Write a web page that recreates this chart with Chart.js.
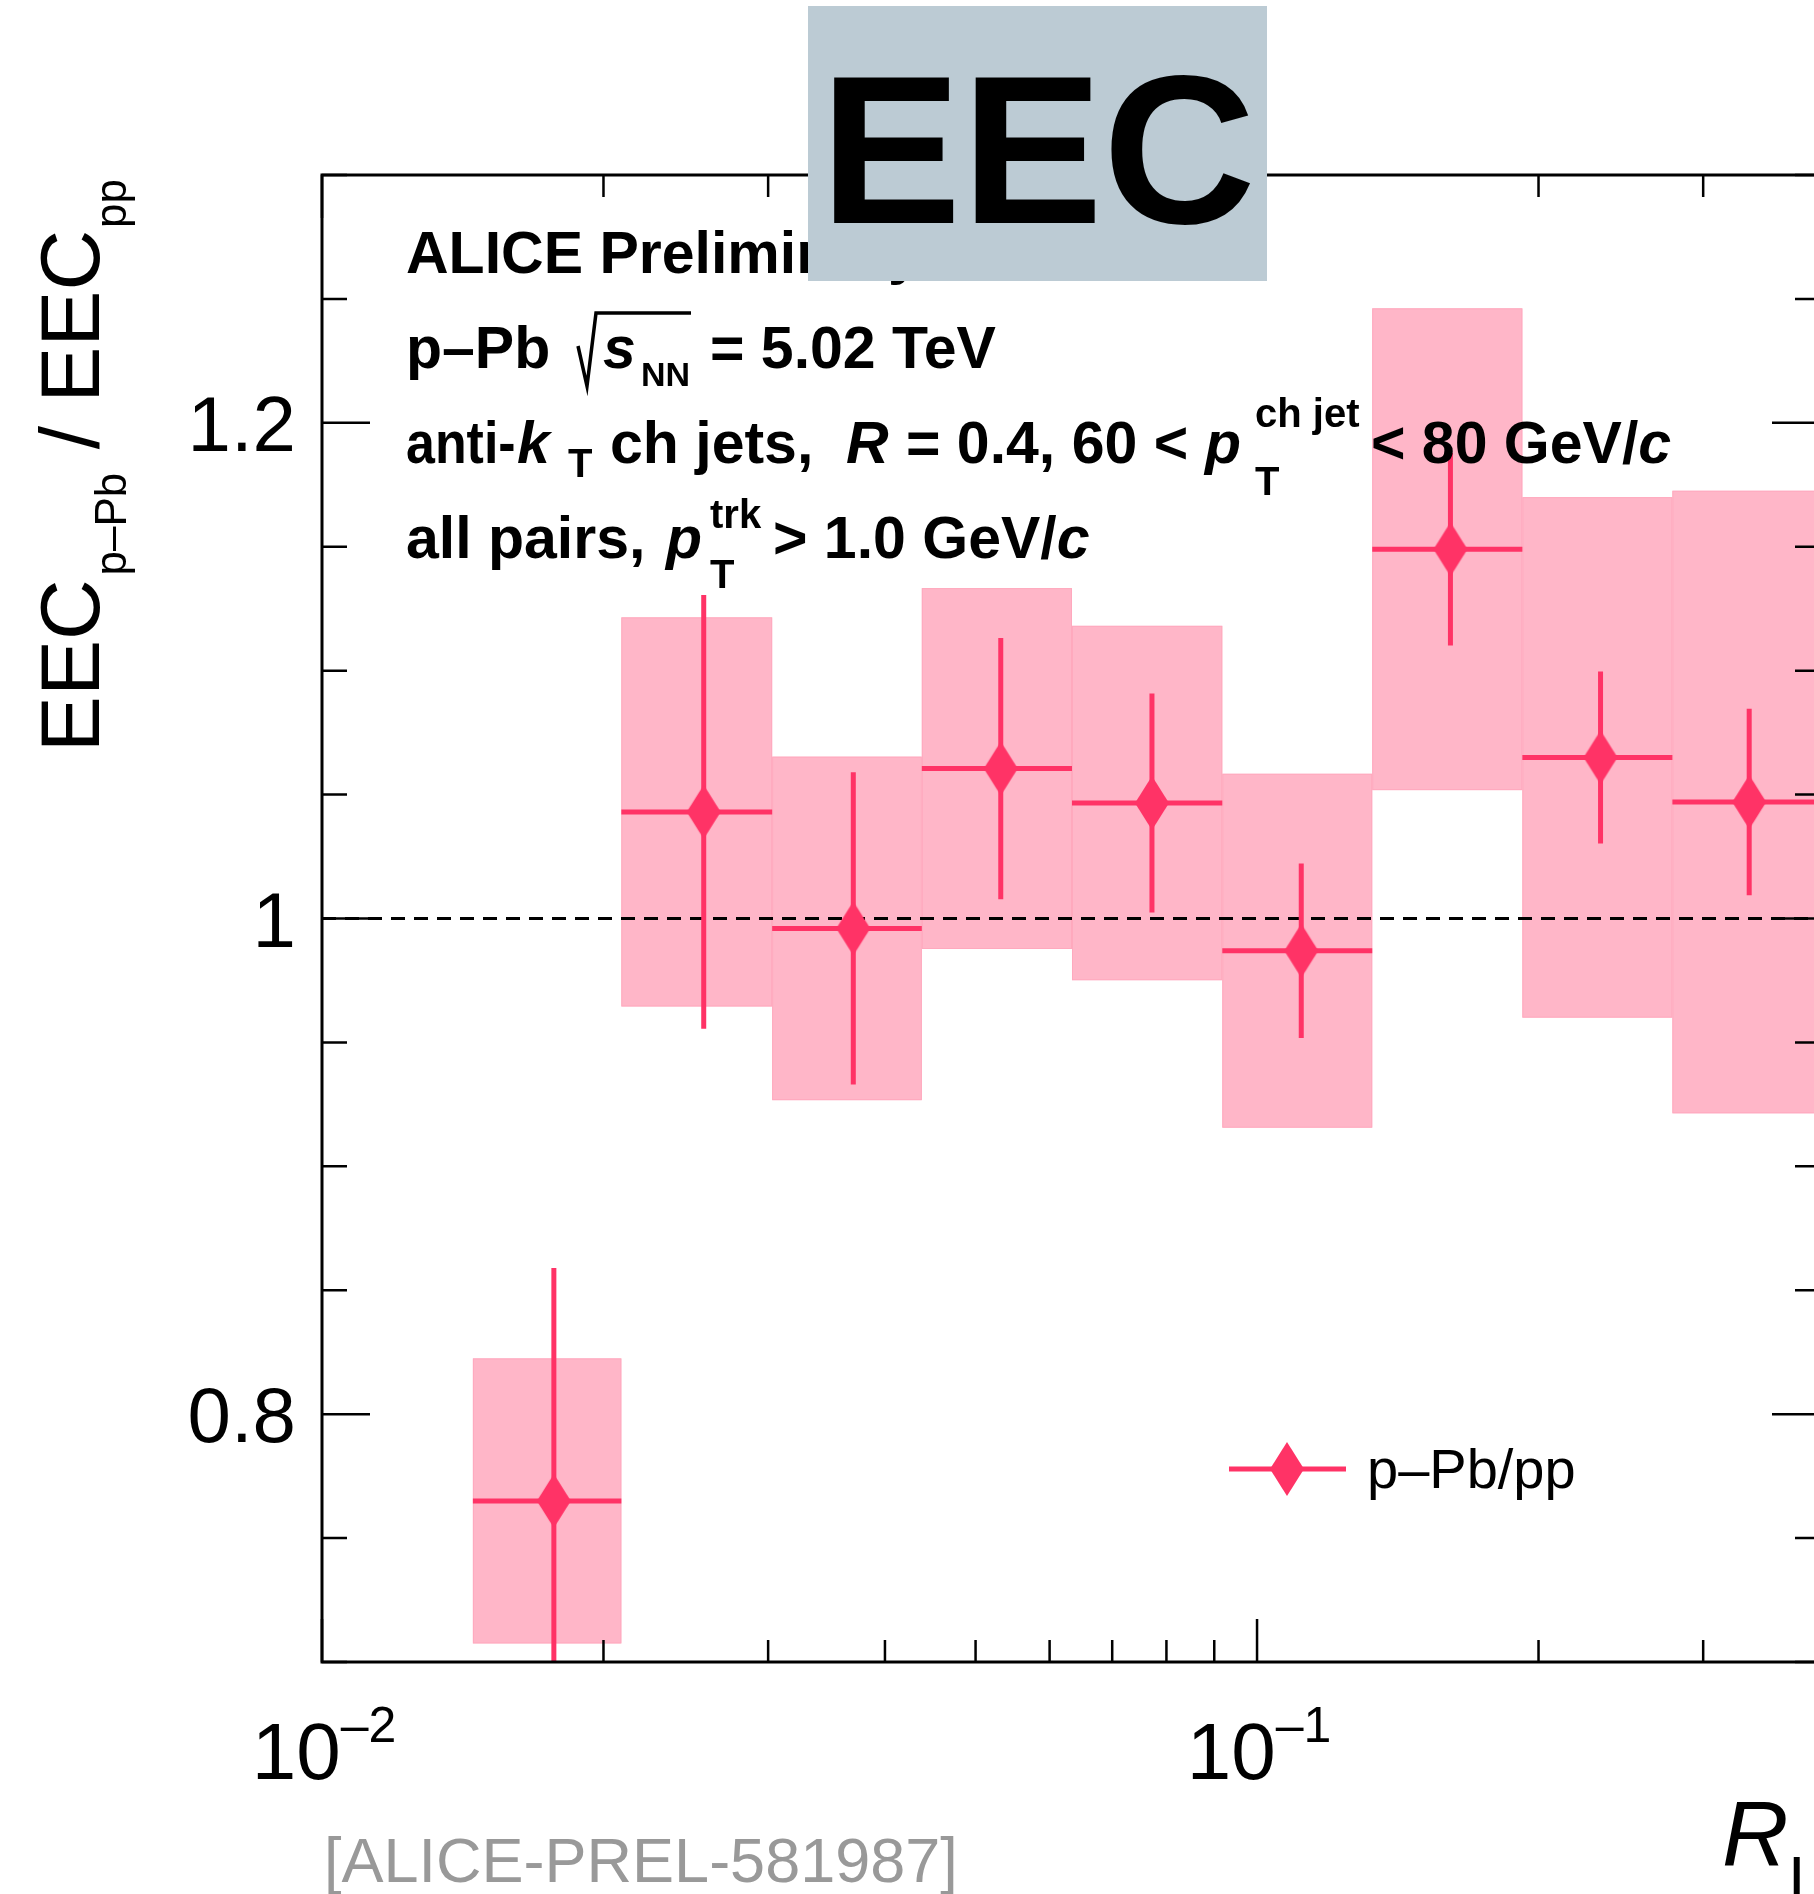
<!DOCTYPE html>
<html>
<head>
<meta charset="utf-8">
<title>EEC p-Pb / pp</title>
<script src="https://cdn.jsdelivr.net/npm/chart.js@4.4.0/dist/chart.umd.min.js"></script>
<style>
  html, body { margin: 0; padding: 0; background: #fff; overflow: hidden; }
  #wrap { width: 1814px; height: 1894px; overflow: hidden; }
  canvas { display: block; }
</style>
</head>
<body>
<div id="wrap"><canvas id="eecChart" width="1840" height="1894"></canvas></div>
<script>
// Donnees
const binEdges = [0.0145, 0.0209, 0.0303, 0.0438, 0.0634, 0.0918, 0.1328, 0.1922, 0.2781, 0.4024];
const rlCenters = [0.0177, 0.0256, 0.0370, 0.0532, 0.0772, 0.1115, 0.161, 0.233, 0.336];
const ratio = [0.765, 1.043, 0.996, 1.0605, 1.0466, 0.987, 1.149, 1.065, 1.047];
const statErr = [0.094, 0.0875, 0.063, 0.0527, 0.0442, 0.0352, 0.0388, 0.0347, 0.0376];
const sysErr = [0.0575, 0.0785, 0.0693, 0.0728, 0.0715, 0.0714, 0.0972, 0.105, 0.1256];
const seriesLabel = 'p\u2013Pb/pp';

// Axes
const xTickValues = [0.01, 0.1];
const xTickExponents = ['\u20132', '\u20131'];
const xMinorTicks = [0.02, 0.03, 0.04, 0.05, 0.06, 0.07, 0.08, 0.09, 0.2, 0.3];
const yTickValues = [0.8, 1, 1.2];
const yTickLabels = ['0.8', '1', '1.2'];
const yMinorStep = 0.05;

const FONT = '"Liberation Sans", Arial, Helvetica, sans-serif';
const RED = '#ff3366';
const PINK = '#ffb6c8';

function makeDiamond(w, h, color) {
    const c = document.createElement('canvas');
    c.width = w;
    c.height = h;
    const g = c.getContext('2d');
    g.fillStyle = color;
    g.beginPath();
    g.moveTo(w / 2, 0);
    g.lineTo(w, h / 2);
    g.lineTo(w / 2, h);
    g.lineTo(0, h / 2);
    g.closePath();
    g.fill();
    return c;
}
const diamond = makeDiamond(34, 54, RED);

function txt(ctx, s, x, y, size, style, color, align) {
    ctx.font = (style || '') + ' ' + size + 'px ' + FONT;
    ctx.fillStyle = color || '#000';
    ctx.textAlign = align || 'left';
    ctx.textBaseline = 'alphabetic';
    ctx.fillText(s, x, y);
    return ctx.measureText(s).width;
}

// texte un peu resserre (police ROOT plus etroite)
function txtNarrow(ctx, s, x, y, size, style, k) {
    ctx.save();
    ctx.translate(x, y);
    ctx.scale(k, 1);
    txt(ctx, s, 0, 0, size, style);
    ctx.restore();
}

// Boites systematiques, ligne a 1, barres d'erreur
const bandsPlugin = {
    id: 'bands',
    beforeDatasetsDraw(chart) {
        const { ctx, chartArea: a, scales: { x, y } } = chart;
        ctx.save();
        ctx.beginPath();
        ctx.rect(a.left, a.top, a.right - a.left, a.bottom - a.top);
        ctx.clip();

        ratio.forEach((v, i) => {
            const x0 = x.getPixelForValue(binEdges[i]);
            const x1 = x.getPixelForValue(binEdges[i + 1]);
            const y0 = y.getPixelForValue(v + sysErr[i]);
            const y1 = y.getPixelForValue(v - sysErr[i]);
            ctx.fillStyle = PINK;
            ctx.fillRect(x0, y0, x1 - x0, y1 - y0);
            ctx.strokeStyle = '#ffa9be';
            ctx.lineWidth = 1;
            ctx.strokeRect(x0 + 0.5, y0 + 0.5, x1 - x0 - 1, y1 - y0 - 1);
        });

        const yOne = y.getPixelForValue(1);
        ctx.strokeStyle = '#000';
        ctx.lineWidth = 3;
        ctx.setLineDash([14, 9]);
        ctx.beginPath();
        ctx.moveTo(a.left, yOne);
        ctx.lineTo(a.right, yOne);
        ctx.stroke();
        ctx.setLineDash([]);

        ctx.strokeStyle = RED;
        ctx.lineWidth = 5;
        ratio.forEach((v, i) => {
            const x0 = x.getPixelForValue(binEdges[i]);
            const x1 = x.getPixelForValue(binEdges[i + 1]);
            const xc = x.getPixelForValue(rlCenters[i]);
            const yc = y.getPixelForValue(v);
            ctx.beginPath();
            ctx.moveTo(x0, yc);
            ctx.lineTo(x1, yc);
            ctx.moveTo(xc, y.getPixelForValue(v + statErr[i]));
            ctx.lineTo(xc, y.getPixelForValue(v - statErr[i]));
            ctx.stroke();
        });
        ctx.restore();
    }
};

// Cadre, graduations, etiquettes, textes
const framePlugin = {
    id: 'frame',
    afterDraw(chart) {
        const { ctx, chartArea: a, scales: { x, y } } = chart;
        ctx.save();
        ctx.strokeStyle = '#000';

        // graduations
        ctx.lineWidth = 2.5;
        ctx.beginPath();
        for (let v = 0.7; v <= 1.3001; v += yMinorStep) {
            const py = y.getPixelForValue(v);
            const major = yTickValues.some(t => Math.abs(t - v) < 1e-6);
            const len = major ? 48 : 25;
            ctx.moveTo(a.left, py); ctx.lineTo(a.left + len, py);
            ctx.moveTo(a.right, py); ctx.lineTo(a.right - len, py);
        }
        xMinorTicks.concat(xTickValues).forEach(v => {
            const px = x.getPixelForValue(v);
            const len = xTickValues.includes(v) ? 43 : 22;
            ctx.moveTo(px, a.bottom); ctx.lineTo(px, a.bottom - len);
            ctx.moveTo(px, a.top); ctx.lineTo(px, a.top + len);
        });
        ctx.stroke();

        ctx.lineWidth = 3;
        ctx.strokeRect(a.left, a.top, a.right - a.left, a.bottom - a.top);

        // etiquettes y
        yTickValues.forEach((v, i) => {
            txt(ctx, yTickLabels[i], a.left - 26, y.getPixelForValue(v) + 28, 78, '', '#000', 'right');
        });

        // etiquettes x (10^n)
        xTickValues.forEach((v, i) => {
            const px = x.getPixelForValue(v);
            ctx.font = '80px ' + FONT;
            const w10 = ctx.measureText('10').width;
            ctx.font = '50px ' + FONT;
            const wExp = ctx.measureText(xTickExponents[i]).width;
            const start = px - (w10 + wExp) / 2 + 2;
            txt(ctx, '10', start, 1779, 80);
            txt(ctx, xTickExponents[i], start + w10, 1742, 50);
        });

        // titre x
        const wR = txt(ctx, 'R', 1722, 1866, 92, 'italic');
        txt(ctx, 'L', 1722 + wR, 1902, 64);

        // titre y (vertical, aligne en haut)
        ctx.save();
        ctx.translate(99, a.top);
        ctx.rotate(-Math.PI / 2);
        const parts = [
            { t: 'EEC', s: 84, dy: 0, gap: 4 },
            { t: 'p\u2013Pb', s: 44, dy: 27, gap: 0 },
            { t: ' / ', s: 84, dy: 0, gap: 0 },
            { t: 'EEC', s: 84, dy: 0, gap: 2 },
            { t: 'pp', s: 44, dy: 27, gap: 0 }
        ];
        let total = 0;
        parts.forEach(p => { ctx.font = p.s + 'px ' + FONT; p.w = ctx.measureText(p.t).width; total += p.w + p.gap; });
        let cx = -total - 4;
        parts.forEach(p => { txt(ctx, p.t, cx, p.dy, p.s); cx += p.w + p.gap; });
        ctx.restore();

        // textes ALICE
        const B = 59, S = 40;
        txt(ctx, 'ALICE Preliminary', 406, 273, B, 'bold');

        txt(ctx, 'p\u2013Pb', 406, 368, B, 'bold');
        ctx.lineWidth = 3.5;
        ctx.beginPath();
        ctx.moveTo(578, 346);
        ctx.lineTo(587, 386);
        ctx.lineTo(596, 313);
        ctx.lineTo(691, 313);
        ctx.stroke();
        txt(ctx, 's', 603, 368, B, 'italic bold');
        txt(ctx, 'NN', 641, 386, 34, 'bold');
        txt(ctx, '= 5.02 TeV', 710, 368, B, 'bold');

        txtNarrow(ctx, 'anti-', 406, 463, B, 'bold', 0.88);
        txt(ctx, 'k', 517, 463, B, 'italic bold');
        txt(ctx, 'T', 568, 477, S, 'bold');
        txt(ctx, 'ch jets,', 610, 463, B, 'bold');
        txt(ctx, 'R', 846, 463, B, 'italic bold');
        txt(ctx, '= 0.4, 60 <', 906, 463, B, 'bold');
        txt(ctx, 'p', 1205, 463, B, 'italic bold');
        txt(ctx, 'ch jet', 1255, 427, S, 'bold');
        txt(ctx, 'T', 1255, 495, S, 'bold');
        const w80 = txt(ctx, '< 80 GeV/', 1371, 463, B, 'bold');
        txt(ctx, 'c', 1371 + w80, 463, B, 'italic bold');

        txt(ctx, 'all pairs,', 406, 558, B, 'bold');
        txt(ctx, 'p', 666, 558, B, 'italic bold');
        txt(ctx, 'trk', 710, 528, S, 'bold');
        txt(ctx, 'T', 710, 588, S, 'bold');
        const wGev = txt(ctx, '> 1.0 GeV/', 773, 558, B, 'bold');
        txt(ctx, 'c', 773 + wGev, 558, B, 'italic bold');

        // encadre EEC
        ctx.fillStyle = '#bccbd4';
        ctx.fillRect(808, 6, 459, 275);
        txt(ctx, 'EEC', 1038, 223, 212, 'bold', '#000', 'center');

        // legende
        ctx.strokeStyle = RED;
        ctx.lineWidth = 5;
        ctx.beginPath();
        ctx.moveTo(1229, 1469);
        ctx.lineTo(1346, 1469);
        ctx.stroke();
        ctx.drawImage(diamond, 1287 - diamond.width / 2, 1469 - diamond.height / 2);
        txt(ctx, seriesLabel, 1367, 1488, 56);

        // reference
        txt(ctx, '[ALICE-PREL-581987]', 324, 1882, 63, '', '#999999');
        ctx.restore();
    }
};

document.addEventListener('DOMContentLoaded', function () {
    const ctx = document.getElementById('eecChart');
    new Chart(ctx, {
        type: 'scatter',
        data: {
            datasets: [{
                label: seriesLabel,
                data: rlCenters.map((v, i) => ({ x: v, y: ratio[i] })),
                pointStyle: diamond,
                pointRadius: 17,
                pointHoverRadius: 17,
                showLine: false
            }]
        },
        options: {
            responsive: false,
            animation: false,
            events: [],
            layout: { padding: { left: 322, top: 175, right: 20, bottom: 232 } },
            plugins: {
                legend: { display: false },
                tooltip: { enabled: false }
            },
            scales: {
                x: { type: 'logarithmic', min: 0.01, max: 0.4, display: false },
                y: { type: 'linear', min: 0.7, max: 1.3, display: false }
            }
        },
        plugins: [bandsPlugin, framePlugin]
    });
});
</script>
</body>
</html>
